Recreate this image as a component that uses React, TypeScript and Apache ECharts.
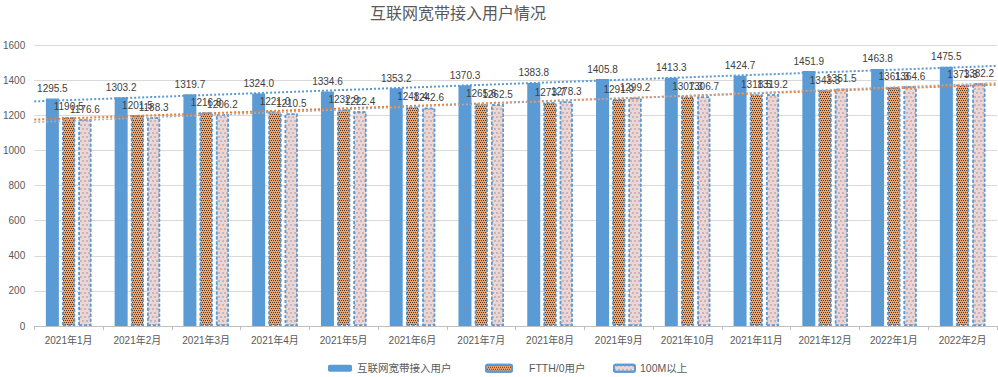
import React, { useEffect, useRef } from "react";
import * as echarts from "echarts";

const categories = [
  "2021年1月", "2021年2月", "2021年3月", "2021年4月", "2021年5月", "2021年6月", "2021年7月",
  "2021年8月", "2021年9月", "2021年10月", "2021年11月", "2021年12月", "2022年1月", "2022年2月",
];
const broadband = [1295.5, 1303.2, 1319.7, 1324.0, 1334.6, 1353.2, 1370.3, 1383.8, 1405.8, 1413.3, 1424.7, 1451.9, 1463.8, 1475.5];
const ftth = [1190.5, 1201.5, 1216.8, 1221.0, 1232.9, 1248.4, 1265.6, 1273.7, 1291.9, 1307.3, 1318.5, 1343.3, 1361.3, 1373.3];
const m100 = [1176.6, 1188.3, 1206.2, 1210.5, 1222.4, 1242.6, 1262.5, 1278.3, 1299.2, 1306.7, 1319.2, 1351.5, 1364.6, 1382.2];
const seriesNames = ["互联网宽带接入用户", "FTTH/0用户", "100M以上"];
const yTicks = { min: 0, max: 1600, interval: 200 };

const FONT = '"Liberation Sans", "Noto Sans CJK SC", sans-serif';

// Linear (least squares) trend line spanning the full category band, as Excel draws it
function trendLine(values: number[]): number[][] {
  const n = values.length;
  let sx = 0, sy = 0, sxx = 0, sxy = 0;
  values.forEach((v, i) => { sx += i; sy += v; sxx += i * i; sxy += i * v; });
  const b = (n * sxy - sx * sy) / (n * sxx - sx * sx);
  const a = (sy - b * sx) / n;
  const x0 = -0.5, x1 = n - 0.5;
  return [[x0, a + b * x0], [x1, a + b * x1]];
}

export default function App() {
  const ref = useRef<HTMLDivElement>(null);
  useEffect(() => {
    if (!ref.current) return;
    const chart = echarts.init(ref.current, null, { renderer: "svg" });
    const labelStyle = {
      show: true,
      position: "top" as const,
      distance: 5,
      fontSize: 10,
      color: "#404040",
      fontFamily: FONT,
      formatter: (p: any) => Number(p.value).toFixed(1),
    };
    const legendBase = {
      top: 358,
      itemHeight: 7,
      textStyle: { fontSize: 10.5, color: "#595959", fontFamily: FONT },
      selectedMode: false,
    };
    chart.setOption({
      animation: false,
      backgroundColor: "#ffffff",
      title: {
        text: "互联网宽带接入用户情况",
        left: 370,
        top: 5,
        padding: 0,
        textStyle: { fontSize: 16, fontWeight: "normal", color: "#595959", fontFamily: FONT },
      },
      legend: [
        { ...legendBase, left: 323, itemWidth: 24, data: [seriesNames[0]] },
        { ...legendBase, left: 480, itemWidth: 26, data: [seriesNames[1]], textStyle: { ...legendBase.textStyle, padding: [0, 0, 0, 12] } },
        { ...legendBase, left: 608, itemWidth: 21, data: [seriesNames[2]] },
      ],
      grid: { left: 34, right: 1, top: 45, bottom: 51, containLabel: false },
      xAxis: [
        {
          type: "category",
          data: categories,
          axisLine: { lineStyle: { color: "#BFBFBF" } },
          axisTick: { show: true, length: 4, lineStyle: { color: "#BFBFBF" } },
          axisLabel: { fontSize: 10, color: "#595959", margin: 9, fontFamily: FONT, interval: 0 },
        },
        { type: "value", min: -0.5, max: categories.length - 0.5, show: false },
      ],
      yAxis: {
        type: "value",
        min: yTicks.min,
        max: yTicks.max,
        interval: yTicks.interval,
        axisLine: { show: false },
        axisTick: { show: false },
        axisLabel: { fontSize: 10, color: "#595959", margin: 9, fontFamily: FONT, formatter: (v: number) => String(v) },
        splitLine: { lineStyle: { color: "#D9D9D9" } },
      },
      series: [
        {
          name: seriesNames[0],
          type: "bar",
          data: broadband,
          barWidth: 13,
          barGap: "25%",
          itemStyle: { color: "#5B9BD5" },
          label: labelStyle,
        },
        {
          name: seriesNames[1],
          type: "bar",
          data: ftth,
          barWidth: 13,
          barGap: "25%",
          itemStyle: {
            color: "#F2A46A",
            borderColor: "#5B9BD5",
            borderWidth: 1.5,
            borderType: [3, 2],
            decal: {
              symbol: "rect",
              symbolSize: 1,
              color: "rgba(45,25,10,0.8)",
              dashArrayX: [[1, 1], [0, 1, 1, 0]],
              dashArrayY: [1, 1],
            },
          },
          label: labelStyle,
        },
        {
          name: seriesNames[2],
          type: "bar",
          data: m100,
          barWidth: 13,
          barGap: "25%",
          itemStyle: {
            color: "#E9D6D6",
            borderColor: "#5B9BD5",
            borderWidth: 1.5,
            borderType: [3, 2],
            decal: {
              symbol: "rect",
              symbolSize: 1,
              color: "rgba(185,145,145,0.55)",
              dashArrayX: [[2, 2], [0, 2, 2, 0]],
              dashArrayY: [2, 2],
            },
          },
          label: labelStyle,
        },
        {
          name: "trend0",
          type: "line",
          xAxisIndex: 1,
          data: trendLine(broadband),
          symbol: "none",
          silent: true,
          z: 5,
          lineStyle: { color: "#5B9BD5", width: 2, type: [2, 2] },
        },
        {
          name: "trend1",
          type: "line",
          xAxisIndex: 1,
          data: trendLine(ftth),
          symbol: "none",
          silent: true,
          z: 5,
          lineStyle: { color: "#ED7D31", width: 2, type: [2, 2] },
        },
        {
          name: "trend2",
          type: "line",
          xAxisIndex: 1,
          data: trendLine(m100),
          symbol: "none",
          silent: true,
          z: 5,
          lineStyle: { color: "#B8A8A8", width: 1.5, type: [2, 2] },
        },
      ],
    });
    return () => chart.dispose();
  }, []);
  return (
    <div
      ref={ref}
      style={{ position: "fixed", left: 0, top: 0, width: 998, height: 377 }}
    />
  );
}
